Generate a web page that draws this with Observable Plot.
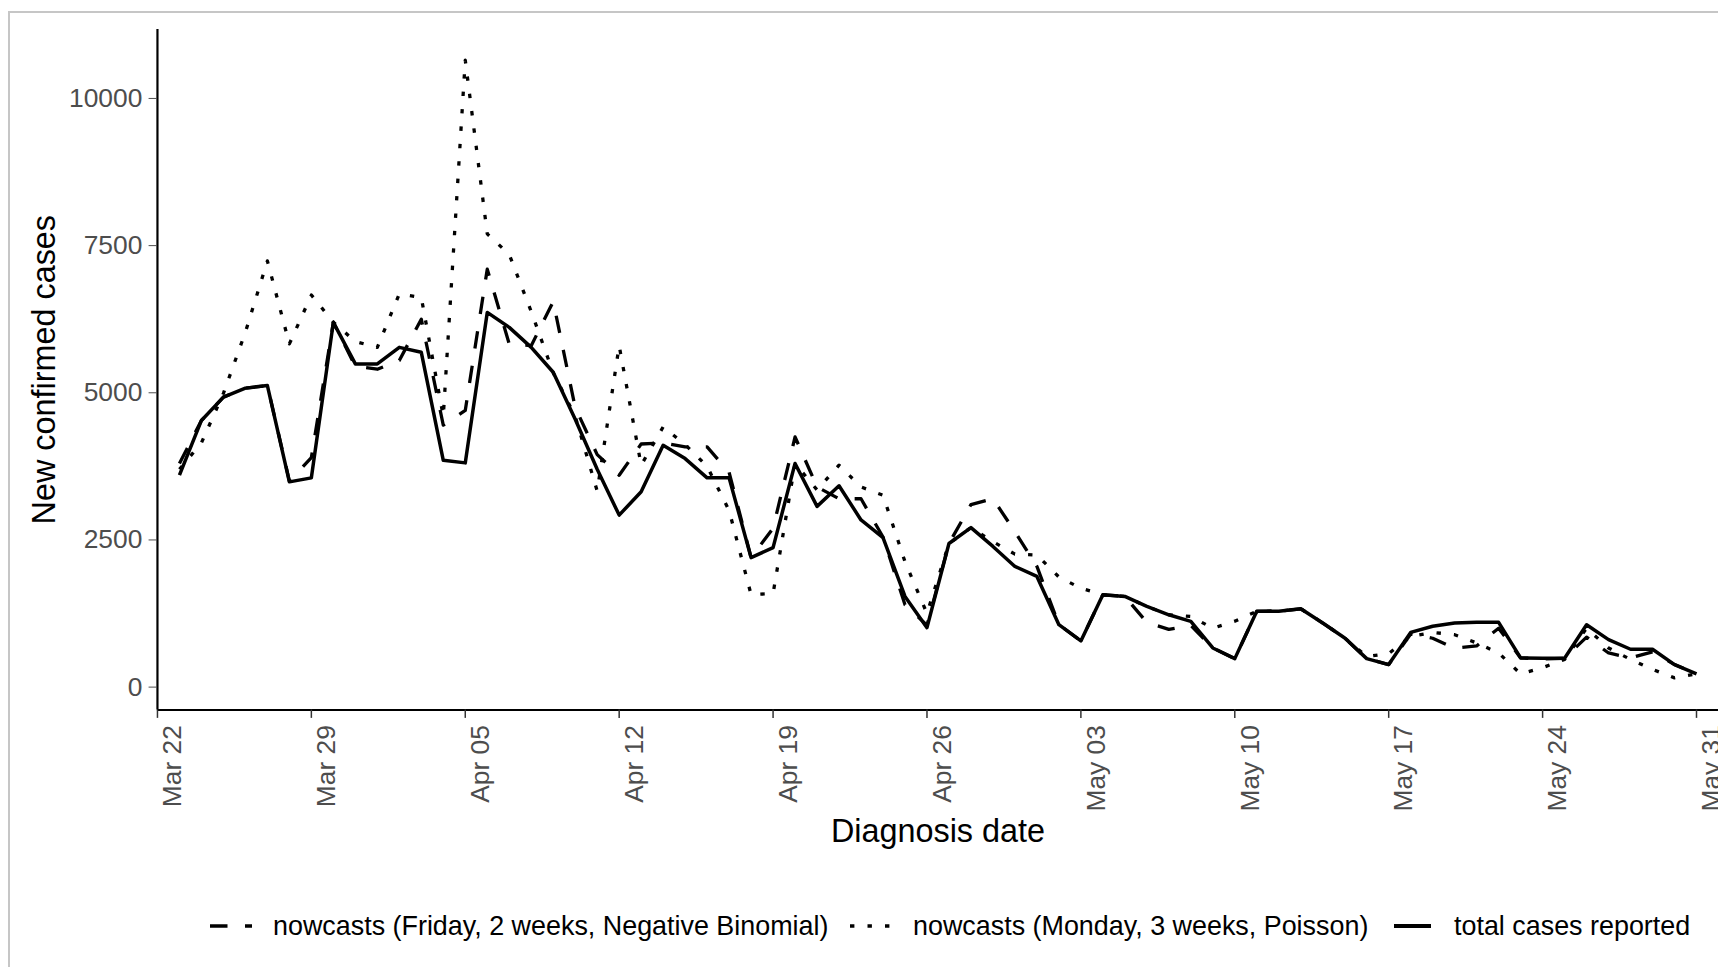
<!DOCTYPE html>
<html>
<head>
<meta charset="utf-8">
<script src="https://cdn.jsdelivr.net/npm/d3@7"></script>
<script src="https://cdn.jsdelivr.net/npm/@observablehq/plot@0.6"></script>
<style>
  html, body { margin: 0; padding: 0; background: #ffffff; overflow: hidden; width: 1718px; height: 967px; }
  #wrap { position: relative; width: 1718px; height: 967px; overflow: hidden; font-family: "Liberation Sans", Arial, sans-serif; }
  #border { position: absolute; left: 8px; top: 11px; width: 2000px; height: 2000px; border: 2px solid #c6c6c6; box-sizing: border-box; }
  #chart { position: absolute; left: 0; top: 0; }
  .lkey { position: absolute; top: 911px; height: 30px; }
  .ltxt { position: absolute; top: 911px; height: 30px; line-height: 30px; font-size: 26.9px; color: #000; white-space: nowrap; }
</style>
</head>
<body>
<div id="wrap">
  <div id="border"></div>
  <div id="chart"></div>
  <div id="legend"></div>
</div>
<script>
// ---- data ----
const firstDay = "2020-03-23";
const dayAfterLast = "2020-06-01";
const dates = d3.utcDay.range(new Date(firstDay), new Date(dayAfterLast)); // Mar 23 .. May 31

const seriesNames = [
  "nowcasts (Friday, 2 weeks, Negative Binomial)",
  "nowcasts (Monday, 3 weeks, Poisson)",
  "total cases reported"
];

const fridayNegBin = [
  3800, 4530, 4926, 5079, 5123, 3500, 3900, 6196, 5450, 5400,
  5550, 6250, 4450, 4700, 7100, 5830, 5800, 6550, 4750, 3950,
  3600, 4130, 4150, 4080, 4080, 3650, 2200, 2700, 4250, 3400,
  3200, 3200, 2550, 1400, 1050, 2440, 3100, 3200, 2640, 2050,
  1060, 785, 1568, 1540, 1100, 980, 1050, 665, 484, 1287,
  1290, 1331, 1089, 835, 484, 383, 900, 830, 660, 700,
  1000, 496, 480, 490, 850, 580, 496, 600, 383, 225
];

const mondayPoisson = [
  3700, 4150, 4990, 6030, 7240, 5830, 6660, 6200, 5870, 5770,
  6680, 6620, 4600, 10650, 7700, 7350, 6380, 5340, 4600, 3330,
  5800, 3770, 4420, 4120, 3750, 3000, 1570, 1590, 3800, 3350,
  3770, 3400, 3260, 2130, 1250, 2440, 2710, 2470, 2260, 2245,
  1870, 1680, 1568, 1540, 1371, 1229, 1200, 1000, 1120, 1287,
  1290, 1331, 1089, 835, 520, 570, 860, 930, 890, 750,
  580, 225, 330, 470, 1000, 665, 470, 300, 157, 225
];

const totalReported = [
  3600, 4530, 4926, 5079, 5123, 3487, 3555, 6196, 5490, 5490,
  5772, 5688, 3853, 3809, 6365, 6111, 5772, 5349, 4550, 3700,
  2922, 3318, 4107, 3882, 3555, 3555, 2200, 2370, 3800, 3070,
  3420, 2840, 2540, 1540, 1010, 2440, 2710, 2390, 2050, 1880,
  1060, 785, 1568, 1540, 1371, 1229, 1117, 665, 484, 1287,
  1290, 1331, 1089, 835, 484, 383, 930, 1033, 1089, 1100,
  1100, 496, 490, 490, 1060, 806, 643, 643, 383, 225
];

const xTickDates = ["2020-03-22", "2020-03-29", "2020-04-05", "2020-04-12", "2020-04-19",
  "2020-04-26", "2020-05-03", "2020-05-10", "2020-05-17", "2020-05-24", "2020-05-31"];
const yTicks = [0, 2500, 5000, 7500, 10000];
const xDomain = ["2020-03-22", "2020-06-01"];
const yDomain = [-389, 11173];

const xLabel = "Diagnosis date";
const yLabel = "New confirmed cases";

// ---- build table ----
const seriesValues = [fridayNegBin, mondayPoisson, totalReported];
const rows = [];
seriesValues.forEach((vals, s) => vals.forEach((v, i) => rows.push({date: dates[i], value: v, series: seriesNames[s]})));

const dashes = ["17.5,17.5", "4.4,13.1", null];
const lineMarks = seriesNames.map((name, s) =>
  Plot.lineY(rows.filter(r => r.series === name), {
    x: "date", y: "value", stroke: "#000000", strokeWidth: s === 2 ? 3.5 : 3.3,
    strokeDasharray: dashes[s] || undefined,
    strokeLinecap: "butt", strokeLinejoin: "round"
  })
);

const chart = Plot.plot({
  width: 1724,
  height: 967,
  marginLeft: 157.5,
  marginRight: 0,
  marginTop: 29,
  marginBottom: 255,
  style: { fontFamily: "Liberation Sans, Arial, sans-serif", background: "transparent", overflow: "visible" },
  x: { type: "utc", domain: xDomain.map(d => new Date(d)) },
  y: { domain: yDomain },
  marks: [
    ...lineMarks,
    Plot.ruleX([new Date(xDomain[0])], { stroke: "#000", strokeWidth: 2.2 }),
    Plot.ruleY([yDomain[0]], { stroke: "#000", strokeWidth: 2.2 }),
    Plot.axisY({ ticks: yTicks, tickFormat: d => String(d), tickSize: 8.4, tickPadding: 6.7,
      fontSize: 26.5, color: "#4d4d4d", label: null }),
    // tick marks only
    Plot.axisX({ ticks: xTickDates.map(d => new Date(d)), tickFormat: () => "",
      tickSize: 8.4, color: "#333", label: null, strokeWidth: 1.5 }),
    // rotated tick labels
    Plot.axisX({ ticks: xTickDates.map(d => new Date(d)), tickFormat: d3.utcFormat("%b %d"),
      tickRotate: -90, tickSize: 0, tickPadding: 15.1, dx: 5, textAnchor: "end", lineAnchor: "top",
      fontSize: 26.5, color: "#4d4d4d", label: null }),
    Plot.text([xLabel], { frameAnchor: "bottom", dy: 122, fontSize: 32.5, lineAnchor: "middle", textAnchor: "middle", fill: "#000" }),
    Plot.text([yLabel], { frameAnchor: "left", dx: -113.5, rotate: -90, fontSize: 32.5, lineAnchor: "middle", textAnchor: "middle", fill: "#000" })
  ]
});
document.getElementById("chart").appendChild(chart);

// ---- legend ----
const legend = document.getElementById("legend");
const legendPos = [
  { key: 210, keyW: 42, text: 273 },
  { key: 850, keyW: 42, text: 913 },
  { key: 1394, keyW: 37, text: 1454 }
];
seriesNames.forEach((name, s) => {
  const p = legendPos[s];
  const svg = d3.create("svg").attr("class", "lkey").attr("width", p.keyW).attr("height", 30)
    .style("left", p.key + "px");
  svg.append("line").attr("x1", 0).attr("x2", p.keyW).attr("y1", 15).attr("y2", 15)
    .attr("stroke", "#000").attr("stroke-width", s === 2 ? 4 : 3.6)
    .attr("stroke-dasharray", dashes[s]).attr("stroke-linecap", "butt");
  legend.appendChild(svg.node());
  const t = document.createElement("div");
  t.className = "ltxt";
  t.style.left = p.text + "px";
  t.textContent = name;
  legend.appendChild(t);
});
</script>
</body>
</html>
